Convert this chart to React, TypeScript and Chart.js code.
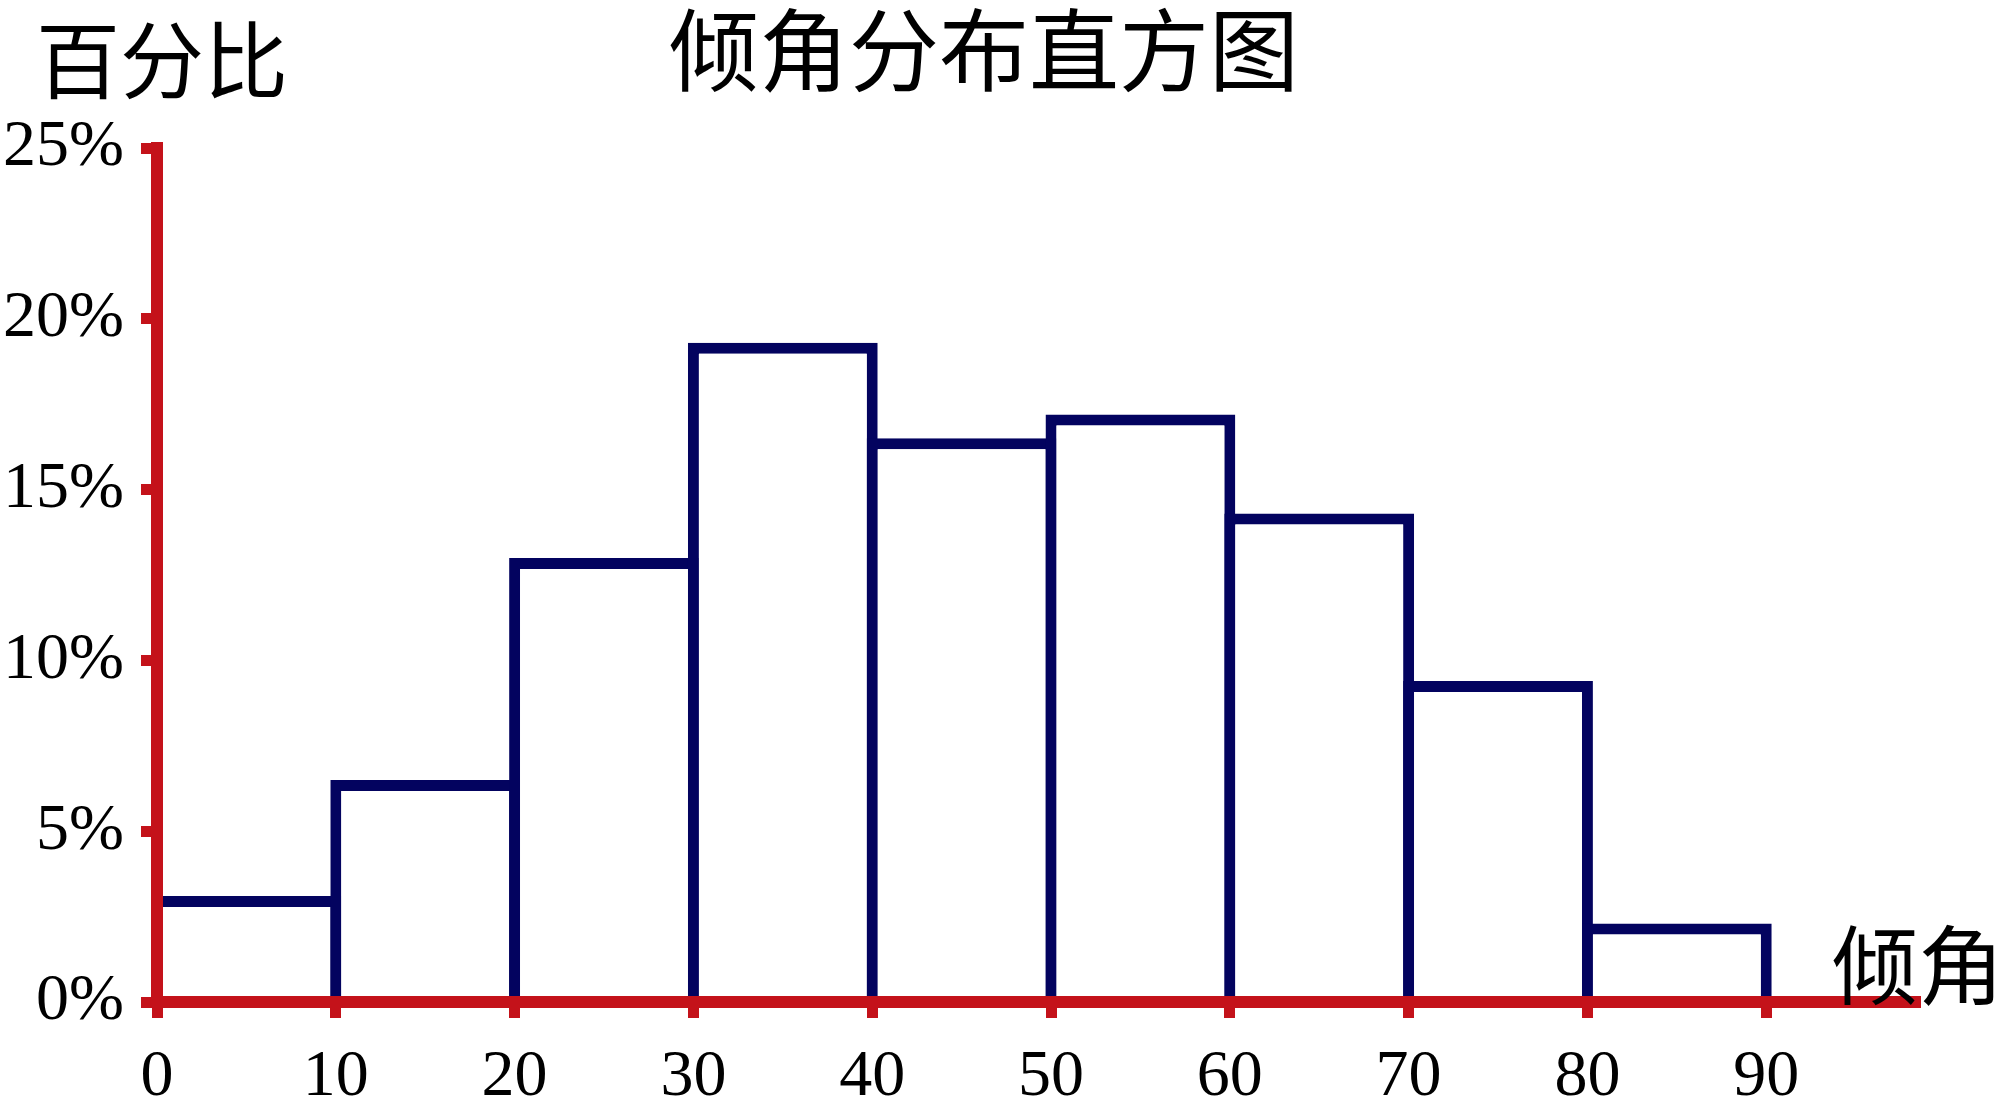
import React, { useEffect, useRef } from "react";
import { Chart, registerables } from "chart.js";

Chart.register(...registerables);

// ---- data ----
const binCenters = [5, 15, 25, 35, 45, 55, 65, 75, 85];
const percentages = [3.1, 6.5, 13.0, 19.3, 16.5, 17.2, 14.3, 9.4, 2.3];
const xTickValues = [0, 10, 20, 30, 40, 50, 60, 70, 80, 90];
const yTickValues = [0, 5, 10, 15, 20, 25];
const chartTitle = "倾角分布直方图";
const yAxisLabel = "百分比";
const xAxisLabel = "倾角";

const RED = "#c4121a";
const NAVY = "#03035f";
const SERIF = "'Liberation Serif', 'Times New Roman', serif";
const CJK = "'Noto Sans CJK SC', sans-serif";
const BORDER = 11;

const textPlugin = {
  id: "cjkTexts",
  afterDraw(chart: any) {
    const ctx = chart.ctx;
    ctx.save();
    ctx.fillStyle = "#000";
    ctx.textAlign = "center";
    ctx.textBaseline = "middle";
    ctx.font = `90px ${CJK}`;
    ctx.fillText(chartTitle, 984, 50);
    ctx.font = `84px ${CJK}`;
    ctx.fillText(yAxisLabel, 162, 60);
    ctx.font = `86px ${CJK}`;
    ctx.fillText(xAxisLabel, 1918, 965);
    ctx.restore();
  },
};

export default function App() {
  const ref = useRef<HTMLCanvasElement | null>(null);

  useEffect(() => {
    if (!ref.current) return;
    const chart = new Chart(ref.current, {
      type: "bar",
      data: {
        datasets: [
          {
            data: binCenters.map((x, i) => ({ x, y: percentages[i] })),
            backgroundColor: "#ffffff",
            borderColor: NAVY,
            borderWidth: BORDER,
            borderSkipped: "start",
            // widen each bar by one border width so neighbouring outlines overlap
            barPercentage: 1.0615,
            categoryPercentage: 1,
            inflateAmount: 0,
          } as any,
        ],
      },
      options: {
        animation: false,
        responsive: false,
        maintainAspectRatio: false,
        layout: { padding: { top: 148, right: 80, left: 0, bottom: 0 } },
        plugins: {
          legend: { display: false },
          tooltip: { enabled: false },
          title: { display: false },
        },
        scales: {
          x: {
            type: "linear",
            min: 0,
            max: 98.6,
            offset: false,
            afterBuildTicks: (axis: any) => {
              axis.ticks = xTickValues.map((value) => ({ value }));
            },
            afterFit: (s: any) => {
              s.height = 1104 - 1002;
            },
            ticks: {
              autoSkip: false,
              maxRotation: 0,
              color: "#000",
              padding: 20,
              font: { family: SERIF, size: 66 },
            },
            grid: {
              offset: false,
              drawOnChartArea: false,
              drawTicks: true,
              tickLength: 16,
              tickColor: RED,
              tickWidth: 11,
              z: 1,
            },
            border: { color: RED, width: 12, z: 1 },
          } as any,
          y: {
            min: 0,
            max: 25,
            afterBuildTicks: (axis: any) => {
              axis.ticks = yTickValues.map((value) => ({ value }));
            },
            afterFit: (s: any) => {
              s.width = 157;
            },
            ticks: {
              color: "#000",
              padding: 17,
              font: { family: SERIF, size: 66 },
              callback: (v: any) => `${v}%`,
            },
            grid: {
              drawOnChartArea: false,
              drawTicks: true,
              tickLength: 16,
              tickColor: RED,
              tickWidth: 11,
              z: 1,
            },
            border: { color: RED, width: 12, z: 1 },
          } as any,
        },
      },
      plugins: [textPlugin],
    });
    return () => chart.destroy();
  }, []);

  return (
    <div
      style={{
        position: "fixed",
        left: 0,
        top: 0,
        width: 2000,
        height: 1104,
        background: "#ffffff",
      }}
    >
      <canvas ref={ref} width={2000} height={1104} />
    </div>
  );
}
